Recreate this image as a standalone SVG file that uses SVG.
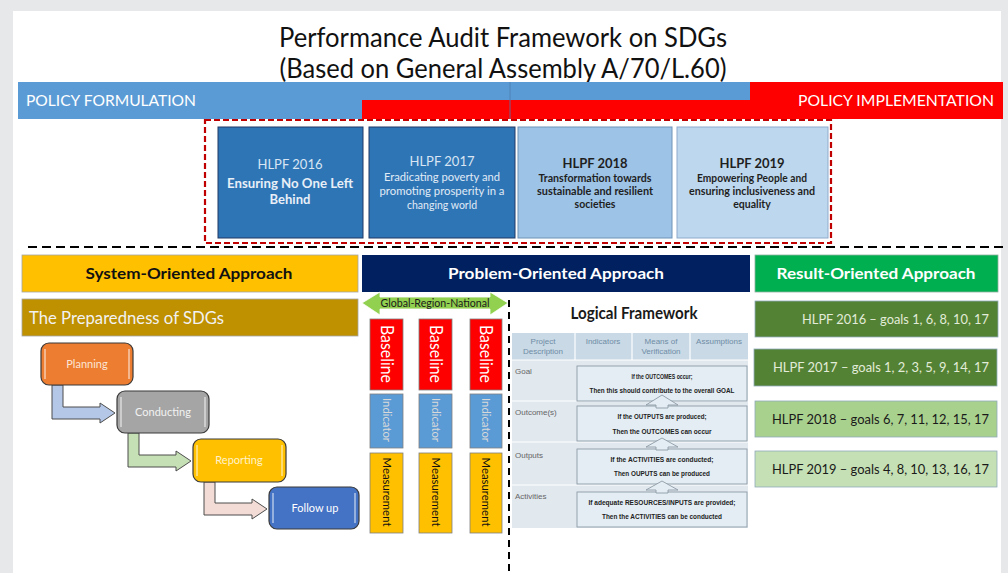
<svg xmlns="http://www.w3.org/2000/svg" width="1008" height="573" viewBox="0 0 1008 573">
<style>
text{font-family:Lato,"Open Sans","Liberation Sans",sans-serif}
.c{text-anchor:middle}
.b{font-weight:bold}
.hl{font-size:13px}
.sub{font-size:10.5px}
.flow{stroke:#3a3a3a;stroke-width:1.2}
.bev{stroke:#ffffff;stroke-opacity:0.6;stroke-width:1.5}
.fl{font-size:11px;text-anchor:middle}
.goal{font-size:13px;text-anchor:end}
.col{stroke:#7f7f7f;stroke-width:0.8}
.rt{text-anchor:middle}
.lf{font-family:"Liberation Sans",Arial,sans-serif;font-size:7.5px;text-anchor:middle;fill:#222;font-weight:bold}
.lh{font-family:"Liberation Sans",Arial,sans-serif;font-size:8px;text-anchor:middle;fill:#6f8ca5}
.ll{font-family:"Liberation Sans",Arial,sans-serif;font-size:8px;fill:#666}
.ib{fill:#e4edf3;stroke:#8d9ba6;stroke-width:0.9}
.ua{fill:#e4edf3;stroke:#8d9ba6;stroke-width:0.9}
</style>
<rect x="0" y="0" width="1008" height="573" fill="#e7e8ea"/>
<rect x="13" y="11" width="988" height="562" fill="#ffffff"/>

<g id="title">
<text x="503" y="47" class="c" font-size="26" fill="#111" textLength="448" lengthAdjust="spacingAndGlyphs">Performance Audit Framework on SDGs</text>
<text x="503" y="78" class="c" font-size="26" fill="#111" textLength="447" lengthAdjust="spacingAndGlyphs">(Based on General Assembly A/70/L.60)</text>
</g>

<g id="policy-bar">
<rect x="18" y="82" width="344" height="37" fill="#5b9bd5"/>
<rect x="362" y="82" width="388" height="18" fill="#5b9bd5"/>
<rect x="362" y="100" width="388" height="19" fill="#ff0000"/>
<rect x="750" y="82" width="253" height="37" fill="#ff0000"/>
<line x1="510" y1="82" x2="510" y2="119" stroke="#4a7eb0" stroke-width="0.8"/>
<text x="26" y="106" font-size="15" fill="#fff" textLength="170" lengthAdjust="spacingAndGlyphs">POLICY FORMULATION</text>
<text x="994" y="106" font-size="15" fill="#fff" text-anchor="end" textLength="196" lengthAdjust="spacingAndGlyphs">POLICY IMPLEMENTATION</text>
</g>

<rect x="205" y="120" width="626" height="123" fill="none" stroke="#c00000" stroke-width="2.2" stroke-dasharray="6,3"/>

<g id="hlpf2016">
<rect x="218" y="127" width="145" height="111" fill="#2e75b6" stroke="#1f3864" stroke-width="1"/>
<text x="290" y="169" class="c hl" fill="#d9e5f2">HLPF 2016</text>
<text x="290" y="188" class="c hl b" fill="#e8eff7" textLength="126" lengthAdjust="spacingAndGlyphs">Ensuring No One Left</text>
<text x="290" y="204" class="c hl b" fill="#e8eff7">Behind</text>
</g>
<g id="hlpf2017">
<rect x="369" y="127" width="146" height="111" fill="#2e75b6" stroke="#1f3864" stroke-width="1"/>
<text x="442" y="166" class="c hl" fill="#d9e5f2">HLPF 2017</text>
<text x="442" y="181" class="c sub" fill="#e0ebf5" textLength="116" lengthAdjust="spacingAndGlyphs">Eradicating  poverty  and</text>
<text x="442" y="195" class="c sub" fill="#e0ebf5" textLength="125" lengthAdjust="spacingAndGlyphs">promoting  prosperity  in a</text>
<text x="442" y="209" class="c sub" fill="#e0ebf5">changing world</text>
</g>
<g id="hlpf2018">
<rect x="518" y="127" width="154" height="111" fill="#9dc3e6" stroke="#6f93b8" stroke-width="1"/>
<text x="595" y="168" class="c hl b" fill="#1f1f1f">HLPF 2018</text>
<text x="595" y="182" class="c sub b" fill="#1f1f1f" textLength="113" lengthAdjust="spacingAndGlyphs">Transformation towards</text>
<text x="595" y="195" class="c sub b" fill="#1f1f1f" textLength="116" lengthAdjust="spacingAndGlyphs">sustainable and resilient</text>
<text x="595" y="208" class="c sub b" fill="#1f1f1f">societies</text>
</g>
<g id="hlpf2019">
<rect x="677" y="127" width="151" height="111" fill="#bdd7ee" stroke="#8eaacb" stroke-width="1"/>
<text x="752" y="168" class="c hl b" fill="#1f1f1f">HLPF 2019</text>
<text x="752" y="182" class="c sub b" fill="#1f1f1f" textLength="110" lengthAdjust="spacingAndGlyphs">Empowering People and</text>
<text x="752" y="195" class="c sub b" fill="#1f1f1f" textLength="126" lengthAdjust="spacingAndGlyphs">ensuring inclusiveness and</text>
<text x="752" y="208" class="c sub b" fill="#1f1f1f">equality</text>
</g>

<g id="dividers">
<line x1="28" y1="247" x2="1003" y2="247" stroke="#000" stroke-width="2" stroke-dasharray="9,5"/>
<line x1="509" y1="300" x2="509" y2="573" stroke="#000" stroke-width="2" stroke-dasharray="7,5"/>
</g>

<g id="system-oriented">
<rect x="22" y="255" width="336" height="37" fill="#ffc000" stroke="#a6a6a6" stroke-width="0.8"/>
<text x="189" y="279" class="c b" font-size="16" fill="#111" textLength="207" lengthAdjust="spacingAndGlyphs">System-Oriented Approach</text>
</g>
<g id="preparedness">
<rect x="22" y="299" width="336" height="37" fill="#bf9000" stroke="#a6a6a6" stroke-width="0.8"/>
<text x="29" y="324" font-size="17" fill="#f2f2f2" textLength="195" lengthAdjust="spacingAndGlyphs">The Preparedness of SDGs</text>
</g>
<g id="problem-oriented">
<rect x="362" y="255" width="388" height="37" fill="#002060"/>
<text x="556" y="279" class="c b" font-size="16" fill="#fff" textLength="216" lengthAdjust="spacingAndGlyphs">Problem-Oriented Approach</text>
</g>
<g id="result-oriented">
<rect x="755" y="255" width="243" height="37" fill="#00b050" stroke="#8fb0a0" stroke-width="0.8"/>
<text x="876" y="279" class="c b" font-size="16" fill="#fff" textLength="199" lengthAdjust="spacingAndGlyphs">Result-Oriented Approach</text>
</g>

<g id="goals2016"><rect x="755" y="301" width="243" height="36" fill="#548235" stroke="#8faabb" stroke-width="0.8"/>
<text x="989" y="324" class="goal" fill="#e2ecd9" textLength="187" lengthAdjust="spacingAndGlyphs">HLPF 2016 – goals 1, 6, 8, 10, 17</text></g>
<g id="goals2017"><rect x="754" y="349" width="243" height="37" fill="#548235" stroke="#8faabb" stroke-width="0.8"/>
<text x="989" y="372" class="goal" fill="#e2ecd9" textLength="216" lengthAdjust="spacingAndGlyphs">HLPF 2017 – goals 1, 2, 3, 5, 9, 14, 17</text></g>
<g id="goals2018"><rect x="755" y="401" width="242" height="36" fill="#a9d18e" stroke="#8faabb" stroke-width="0.8"/>
<text x="989" y="424" class="goal" fill="#1a1a1a" textLength="217" lengthAdjust="spacingAndGlyphs">HLPF 2018 – goals 6, 7, 11, 12, 15, 17</text></g>
<g id="goals2019"><rect x="755" y="451" width="242" height="36" fill="#c5e0b4" stroke="#8faabb" stroke-width="0.8"/>
<text x="989" y="474" class="goal" fill="#1a1a1a" textLength="217" lengthAdjust="spacingAndGlyphs">HLPF 2019 – goals 4, 8, 10, 13, 16, 17</text></g>

<g id="global-region-national">
<polygon points="362,303 380,292 380,297 490,297 490,292 508,303 490,315 490,309 380,309 380,315" fill="#92d050" stroke="#ffffff" stroke-width="0.8"/>
<text x="435" y="307" class="c" font-size="11" fill="#1a1a1a" textLength="109" lengthAdjust="spacingAndGlyphs">Global-Region-National</text>
</g>

<g id="column1">
<rect x="370" y="319" width="33" height="71" fill="#ff0000" class="col"/>
<rect x="370" y="394" width="33" height="54" fill="#5b9bd5" class="col"/>
<rect x="370" y="453" width="33" height="80" fill="#ffc000" class="col"/>
<text transform="translate(386.5,354) rotate(90)" dy="6" class="rt" font-size="17" fill="#fff" textLength="58" lengthAdjust="spacingAndGlyphs">Baseline</text>
<text transform="translate(386.5,420) rotate(90)" dy="4" class="rt" font-size="11" fill="#d9d9d9" textLength="44" lengthAdjust="spacingAndGlyphs">Indicator</text>
<text transform="translate(386.5,492) rotate(90)" dy="4" class="rt" font-size="11" fill="#111" textLength="69" lengthAdjust="spacingAndGlyphs">Measurement</text>
</g>
<g id="column2">
<rect x="419" y="319" width="33" height="71" fill="#ff0000" class="col"/>
<rect x="419" y="394" width="33" height="54" fill="#5b9bd5" class="col"/>
<rect x="419" y="453" width="33" height="80" fill="#ffc000" class="col"/>
<text transform="translate(435.5,354) rotate(90)" dy="6" class="rt" font-size="17" fill="#fff" textLength="58" lengthAdjust="spacingAndGlyphs">Baseline</text>
<text transform="translate(435.5,420) rotate(90)" dy="4" class="rt" font-size="11" fill="#d9d9d9" textLength="44" lengthAdjust="spacingAndGlyphs">Indicator</text>
<text transform="translate(435.5,492) rotate(90)" dy="4" class="rt" font-size="11" fill="#111" textLength="69" lengthAdjust="spacingAndGlyphs">Measurement</text>
</g>
<g id="column3">
<rect x="470" y="319" width="32" height="71" fill="#ff0000" class="col"/>
<rect x="470" y="394" width="32" height="54" fill="#5b9bd5" class="col"/>
<rect x="470" y="453" width="32" height="80" fill="#ffc000" class="col"/>
<text transform="translate(486,354) rotate(90)" dy="6" class="rt" font-size="17" fill="#fff" textLength="58" lengthAdjust="spacingAndGlyphs">Baseline</text>
<text transform="translate(486,420) rotate(90)" dy="4" class="rt" font-size="11" fill="#d9d9d9" textLength="44" lengthAdjust="spacingAndGlyphs">Indicator</text>
<text transform="translate(486,492) rotate(90)" dy="4" class="rt" font-size="11" fill="#111" textLength="69" lengthAdjust="spacingAndGlyphs">Measurement</text>
</g>

<g id="logical-framework">
<text x="634" y="319" class="c b" font-size="17" fill="#1a1a1a" textLength="127" lengthAdjust="spacingAndGlyphs">Logical Framework</text>
<rect x="512" y="333" width="236" height="195" fill="#e1e8ee"/>
<rect x="512" y="333" width="236" height="27" fill="#c9d9e5"/>
<g stroke="#ffffff" stroke-width="1.2">
<line x1="575" y1="333" x2="575" y2="360"/>
<line x1="632" y1="333" x2="632" y2="360"/>
<line x1="690" y1="333" x2="690" y2="360"/>
<line x1="512" y1="360" x2="748" y2="360"/>
<line x1="512" y1="401" x2="748" y2="401"/>
<line x1="512" y1="442" x2="748" y2="442"/>
<line x1="512" y1="485" x2="748" y2="485"/>
</g>
<text x="543" y="344" class="lh">Project</text>
<text x="543" y="354" class="lh">Description</text>
<text x="603" y="344" class="lh">Indicators</text>
<text x="661" y="344" class="lh">Means of</text>
<text x="661" y="354" class="lh">Verification</text>
<text x="719" y="344" class="lh">Assumptions</text>
<text x="515" y="374" class="ll">Goal</text>
<text x="515" y="415" class="ll">Outcome(s)</text>
<text x="515" y="458" class="ll">Outputs</text>
<text x="515" y="499" class="ll">Activities</text>
<rect x="577" y="366" width="170" height="35" class="ib"/>
<rect x="577" y="406" width="170" height="35" class="ib"/>
<rect x="577" y="449" width="170" height="35" class="ib"/>
<rect x="577" y="492" width="170" height="35" class="ib"/>
<polygon points="662,395 646,405 656,405 656,408 668,408 668,405 678,405" class="ua"/>
<polygon points="662,438 646,447 656,447 656,450 668,450 668,447 678,447" class="ua"/>
<polygon points="662,481 646,490 656,490 656,493 668,493 668,490 678,490" class="ua"/>
<text x="662" y="379" class="lf" textLength="61" lengthAdjust="spacingAndGlyphs">If the OUTCOMES occur;</text>
<text x="662" y="393" class="lf" textLength="145" lengthAdjust="spacingAndGlyphs">Then this should contribute to the overall GOAL</text>
<text x="662" y="419" class="lf" textLength="89" lengthAdjust="spacingAndGlyphs">If the OUTPUTS are produced;</text>
<text x="662" y="434" class="lf" textLength="99" lengthAdjust="spacingAndGlyphs">Then the OUTCOMES can occur</text>
<text x="662" y="462" class="lf" textLength="103" lengthAdjust="spacingAndGlyphs">If the ACTIVITIES are conducted;</text>
<text x="662" y="476" class="lf" textLength="96" lengthAdjust="spacingAndGlyphs">Then OUPUTS can be produced</text>
<text x="662" y="505" class="lf" textLength="147" lengthAdjust="spacingAndGlyphs">If adequate RESOURCES/INPUTS are provided;</text>
<text x="662" y="519" class="lf" textLength="120" lengthAdjust="spacingAndGlyphs">Then the ACTIVITIES can be conducted</text>
</g>

<g id="connectors">
<polygon points="52,385 63,385 63,407 100,407 100,403 115,413 100,423 100,419 52,419" fill="#b4c7e7" stroke="#4d4d4d" stroke-width="1"/>
<polygon points="128,433 139,433 139,455 176,455 176,451 191,461 176,471 176,467 128,467" fill="#c5e0b4" stroke="#4d4d4d" stroke-width="1"/>
<polygon points="204,482 215,482 215,503 252,503 252,499 267,509 252,519 252,515 204,515" fill="#f2dcd5" stroke="#4d4d4d" stroke-width="1"/>
</g>

<g id="planning">
<rect x="41" y="343" width="92" height="42" rx="8" fill="#ed7d31" class="flow"/>
<line x1="45" y1="349" x2="45" y2="379" class="bev"/><line x1="129" y1="349" x2="129" y2="379" class="bev"/>
<text x="87" y="368" class="fl" fill="#fbe5d6">Planning</text>
</g>
<g id="conducting">
<rect x="117" y="391" width="92" height="42" rx="8" fill="#a5a5a5" class="flow"/>
<line x1="121" y1="397" x2="121" y2="427" class="bev"/><line x1="205" y1="397" x2="205" y2="427" class="bev"/>
<text x="163" y="416" class="fl" fill="#f2f2f2">Conducting</text>
</g>
<g id="reporting">
<rect x="193" y="439" width="93" height="43" rx="8" fill="#ffc000" class="flow"/>
<line x1="197" y1="445" x2="197" y2="476" class="bev"/><line x1="282" y1="445" x2="282" y2="476" class="bev"/>
<text x="239" y="464" class="fl" fill="#fff2cc">Reporting</text>
</g>
<g id="follow-up">
<rect x="269" y="487" width="90" height="42" rx="8" fill="#4472c4" class="flow"/>
<line x1="273" y1="493" x2="273" y2="523" class="bev"/><line x1="355" y1="493" x2="355" y2="523" class="bev"/>
<text x="315" y="512" class="fl" fill="#ffffff">Follow up</text>
</g>
</svg>
